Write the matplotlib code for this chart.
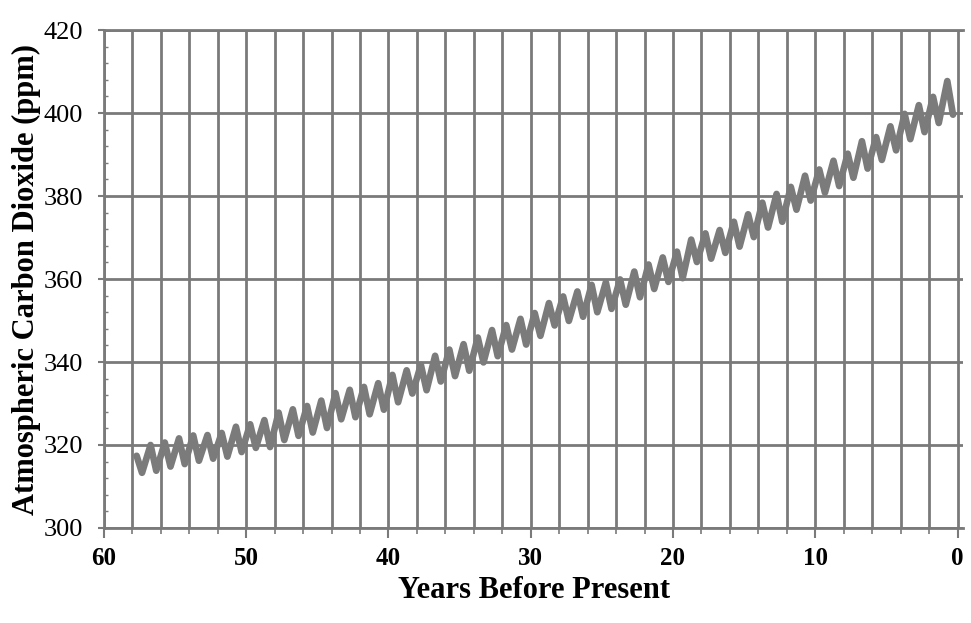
import matplotlib
matplotlib.use('Agg')
import matplotlib.pyplot as plt
from matplotlib.ticker import MultipleLocator
import numpy as np

plt.rcParams['font.family'] = ['Liberation Serif', 'DejaVu Serif']

# reading of the scanned Keeling curve: seasonal high (spring) and low (autumn) per year
present_year = 2017.1
years = list(range(1959, 2017))
spring_peak = [318.3, 320.0, 320.6, 321.6, 322.3, 322.4, 322.9, 324.4, 325.0, 326.0,
               327.8, 328.6, 329.4, 330.7, 332.5, 333.3, 334.0, 334.9, 336.9, 338.0,
               339.3, 341.5, 343.0, 344.3, 345.9, 347.7, 348.9, 350.4, 351.8, 354.2,
               355.8, 357.0, 358.6, 359.2, 359.9, 361.8, 363.5, 365.2, 366.6, 369.5,
               371.0, 371.8, 373.8, 375.6, 378.4, 380.5, 382.2, 384.9, 386.4, 388.5,
               390.2, 393.2, 394.2, 396.8, 399.8, 401.9, 403.9, 407.7]
autumn_low = [313.3, 313.8, 314.8, 315.4, 316.2, 316.7, 317.2, 318.3, 319.3, 319.5,
              321.2, 322.2, 323.0, 324.1, 326.2, 326.7, 327.4, 328.5, 330.3, 332.4,
              333.2, 335.3, 336.6, 337.9, 339.9, 341.4, 343.0, 344.2, 346.3, 348.8,
              349.9, 350.9, 352.0, 352.8, 353.8, 355.6, 357.6, 359.3, 360.2, 364.1,
              364.9, 366.3, 367.8, 370.1, 372.4, 373.8, 376.7, 378.9, 380.8, 382.4,
              384.4, 386.6, 388.7, 391.0, 393.7, 395.4, 397.6, 399.6]
start_value = 317.4

# interleave highs (May) and lows (Oct) into one series
t = [present_year - 1959.4]
co2 = [start_value]
for i, yr in enumerate(years):
    if i > 0:
        t.append(present_year - (yr + 0.38))
        co2.append(spring_peak[i])
    t.append(present_year - (yr + 0.78))
    co2.append(autumn_low[i])

grid_col = '#7a7a7a'

fig = plt.figure(figsize=(9.71, 6.23), dpi=100)
ax = fig.add_axes([0.107, 0.1525, 0.885, 0.7993])

ax.plot(t, co2, color='#7b7b7b', linewidth=4.8, solid_joinstyle='round', solid_capstyle='round', zorder=3)

ax.set_xlim(60, -0.4)
ax.set_ylim(300, 420)
ax.xaxis.set_major_locator(MultipleLocator(10))
ax.xaxis.set_minor_locator(MultipleLocator(2))
ax.yaxis.set_major_locator(MultipleLocator(20))
ax.yaxis.set_minor_locator(MultipleLocator(4))

ax.grid(axis='x', which='both', color=grid_col, linewidth=2.0)
ax.grid(axis='y', which='major', color=grid_col, linewidth=2.0)
ax.set_axisbelow(True)

for side in ['left', 'top', 'bottom']:
    ax.spines[side].set_color(grid_col)
    ax.spines[side].set_linewidth(2.0)
ax.spines['right'].set_visible(False)

ax.tick_params(axis='x', which='major', direction='out', length=7, width=1.5, color=grid_col,
               labelsize=18, pad=7)
ax.tick_params(axis='x', which='minor', direction='out', length=4, width=1.2, color=grid_col)
ax.tick_params(axis='y', which='major', direction='out', length=4, width=1.5, color=grid_col,
               labelsize=19, pad=11)
ax.tick_params(axis='y', which='minor', direction='in', length=3, width=1.0, color=grid_col)
for lab in ax.get_xticklabels():
    lab.set_fontweight('bold')

ax.set_xlabel('Years Before Present', fontsize=22, fontweight='bold', labelpad=4)
ax.set_ylabel('Atmospheric Carbon Dioxide (ppm)', fontsize=22, fontweight='bold', labelpad=2)

plt.savefig('out.png', dpi=100)
plt.close()
